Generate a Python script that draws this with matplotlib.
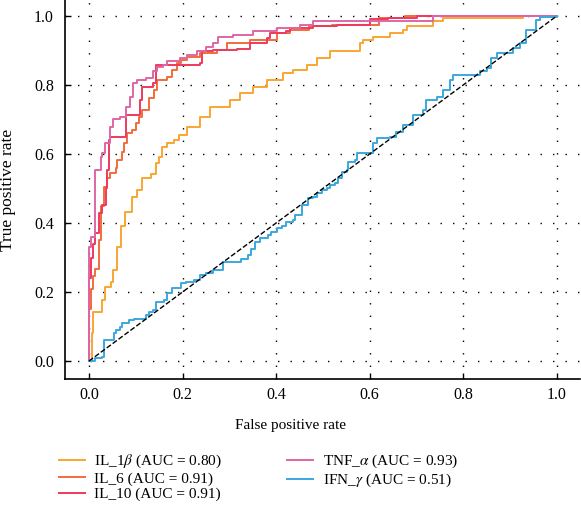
import numpy as np
import matplotlib
matplotlib.use("Agg")
import matplotlib.pyplot as plt

plt.rcParams['font.family'] = ['Liberation Serif', 'DejaVu Serif']
plt.rcParams['mathtext.fontset'] = 'stix'

# ROC curves: (fpr, tpr) at each step
il1b_fpr = [0, .006, .009, .027, .034, .048, .052, .059, .068, .078, .093, .103, .114, .132, .143, .15, .157, .167, .182, .192,
            .209, .237, .259, .301, .323, .351, .38, .415, .436, .465, .487, .515, .579, .586, .607, .643, .672, .679, .736,
            .757, .928, 1.0]
il1b_tpr = [0, .08, .143, .177, .215, .23, .264, .33, .39, .433, .476, .496, .53, .543, .573, .592, .621, .631, .641, .655,
            .679, .708, .737, .757, .776, .795, .814, .834, .843, .858, .877, .897, .92, .93, .94, .95, .96, .97, .984,
            .993, 1.0, 1.0]

il6_fpr = [0, 0, .004, .009, .014, .021, .025, .032, .039, .046, .057, .06, .071, .075, .082, .093, .1, .107, .114, .128,
           .139, .146, .167, .178, .189, .196, .21, .237, .273, .294, .344, .401, .429, .47, .52, .62, .675, 1.0]
il6_tpr = [0, .15, .21, .245, .268, .35, .45, .505, .53, .545, .558, .583, .607, .631, .66, .67, .689, .708, .728, .761,
           .786, .814, .824, .843, .863, .873, .882, .892, .902, .92, .93, .95, .96, .97, .975, .993, 1.0, 1.0]

il10_fpr = [0, 0, .004, .008, .014, .021, .028, .037, .039, .043, .046, .08, .109, .113, .137, .143, .237, .241, .266, .316,
            .344, .38, .387, .422, .429, .479, .53, .6, .64, .7, 1.0]
il10_tpr = [0, .24, .3, .34, .37, .43, .452, .5, .553, .64, .65, .713, .757, .795, .805, .858, .863, .897, .9, .905,
            .92, .935, .95, .955, .964, .97, .975, .99, .993, 1.0, 1.0]

tnf_fpr = [0, 0, .004, .012, .025, .027, .034, .045, .052, .066, .08, .088, .095, .102, .123, .137, .145, .159, .166, .194,
           .209, .23, .251, .266, .276, .308, .351, .401, .451, .479, .736, 1.0]
tnf_tpr = [0, .33, .36, .553, .592, .602, .631, .679, .7, .708, .737, .766, .805, .814, .819, .839, .853, .858, .868, .877,
           .887, .897, .911, .92, .94, .945, .955, .965, .974, .984, 1.0, 1.0]

ifn_fpr = [0, .014, .028, .032, .053, .057, .066, .071, .085, .096, .121, .128, .137, .143, .16, .167, .178, .196, .207, .224,
           .237, .25, .266, .287, .326, .34, .347, .355, .365, .383, .39, .401, .412, .422, .437, .44, .455, .469, .479,
           .487, .497, .508, .515, .526, .533, .54, .551, .554, .568, .572, .607, .615, .643, .657, .672, .693, .714,
           .721, .743, .757, .771, .778, .835, .85, .86, .871, .907, .921, .935, .956, .964, 1.0]
ifn_tpr = [0, .01, .013, .061, .08, .09, .1, .109, .119, .123, .133, .143, .148, .172, .177, .196, .211, .226, .23, .235,
           .249, .254, .264, .288, .297, .307, .326, .346, .356, .365, .375, .385, .39, .404, .409, .423, .452, .471, .476,
           .486, .496, .5, .51, .515, .53, .549, .553, .578, .583, .602, .631, .645, .65, .665, .684, .713, .728,
           .757, .766, .786, .814, .829, .839, .849, .877, .892, .907, .92, .96, .988, .998, 1.0]

labels = [r'IL_1$\beta$ (AUC = 0.80)', 'IL_6 (AUC = 0.91)', 'IL_10 (AUC = 0.91)',
          r'TNF_$\alpha$ (AUC = 0.93)', r'IFN_$\gamma$ (AUC = 0.51)']
colors = ['#f9a633', '#ef6d3b', '#ee3a5c', '#e065a6', '#3ba7de']
curves = [(il1b_fpr, il1b_tpr), (il6_fpr, il6_tpr), (il10_fpr, il10_tpr), (tnf_fpr, tnf_tpr), (ifn_fpr, ifn_tpr)]

fig = plt.figure(figsize=(5.81, 5.05), dpi=100)
ax = fig.add_axes([0.112, 0.2495, 0.886, 0.7505])

for (f, t), c, lab in zip(curves, colors, labels):
    ax.plot(f, t, drawstyle='steps-post', color=c, lw=1.4, label=lab, zorder=3)
ax.plot([0, 1], [0, 1], 'k--', lw=1.0, zorder=4)

ax.set_xlim(-0.051, 1.049)
ax.set_ylim(-0.052, 1.046)
ax.set_xticks([0, 0.2, 0.4, 0.6, 0.8, 1.0])
ax.set_yticks([0, 0.2, 0.4, 0.6, 0.8, 1.0])
ax.tick_params(direction='in', length=4, width=1, labelsize=11.5, color='black')
ax.tick_params(axis='y', pad=8)
ax.tick_params(axis='x', pad=6)
ax.grid(True, color='black', linestyle=(0, (1, 8)), linewidth=1.0, zorder=0)
for s in ['top', 'right']:
    ax.spines[s].set_visible(False)
for s in ['left', 'bottom']:
    ax.spines[s].set_linewidth(1.2)

ax.set_xlabel('False positive rate', fontsize=11)
ax.set_ylabel('True positive rate', fontsize=12.5)
ax.xaxis.set_label_coords((291 - 65) / 515, -0.105)
ax.yaxis.set_label_coords(-0.095, 0.5)

fig.legend(loc='upper left', bbox_to_anchor=(0.088, 0.118), ncol=2, frameon=False, fontsize=11,
           handlelength=1.7, handletextpad=0.6, columnspacing=4.3, labelspacing=0.1, borderpad=0)

fig.savefig('out.png', dpi=100)
